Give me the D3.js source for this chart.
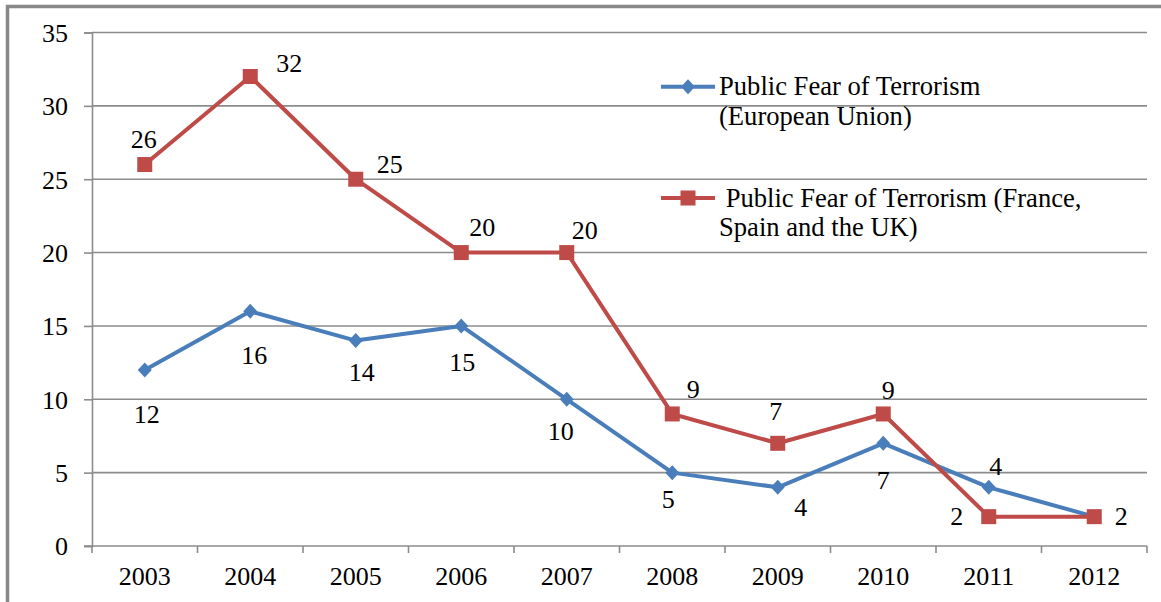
<!DOCTYPE html>
<html>
<head>
<meta charset="utf-8">
<script src="https://cdn.jsdelivr.net/npm/d3@7"></script>
<style>
  html, body { margin: 0; padding: 0; background: #fff; }
  svg { display: block; }
</style>
</head>
<body>
<svg id="chart" width="1161" height="602"></svg>
<script>
// ---- data ----
const years = ["2003","2004","2005","2006","2007","2008","2009","2010","2011","2012"];
const euValues = [12, 16, 14, 15, 10, 5, 4, 7, 4, 2];
const fsukValues = [26, 32, 25, 20, 20, 9, 7, 9, 2, 2];
const yTicks = [0, 5, 10, 15, 20, 25, 30, 35];
const euName = ["Public Fear of Terrorism", "(European Union)"];
const fsukName = ["\u00a0Public Fear of Terrorism (France,", "Spain and the UK)"];

// label offsets (dx, dy of baseline relative to point) — layout only
const euLabelOff = [[2,53],[4,53],[6,40],[1,45],[-6,41],[-4,35],[23,29],[0,46],[7,-12],null];
const fsukLabelOff = [[-1,-17],[39,-5],[34,-6],[21,-17],[18,-14],[21,-16],[-2,-23],[5,-15],[-32,8],[27,8]];

const FONT = "'Liberation Serif', 'Times New Roman', Times, 'DejaVu Serif', serif";
const blue = "#4a7ebb", red = "#be4b48", grid = "#8c8c8c";
const svg = d3.select("#chart");

// outer border
svg.append("rect").attr("x", 7.5).attr("y", 6.5).attr("width", 1200).attr("height", 700)
  .attr("fill", "none").attr("stroke", "#888").attr("stroke-width", 3.5);

const x = d3.scaleBand().domain(years).range([92, 1147]).padding(0);
const y = d3.scaleLinear().domain([0, 35]).range([546, 32.5]);
const cx = d => x(d) + x.bandwidth() / 2;

// gridlines
svg.append("g").selectAll("line").data(yTicks.filter(v => v > 0)).join("line")
  .attr("x1", 92).attr("x2", 1147).attr("y1", d => y(d)).attr("y2", d => y(d))
  .attr("stroke", grid).attr("stroke-width", 1.6);

// y axis
const yAxis = svg.append("g").attr("transform", "translate(92,0)")
  .call(d3.axisLeft(y).tickValues(yTicks).tickSize(8).tickPadding(16));
yAxis.attr("font-family", null).attr("font-size", null);
yAxis.select(".domain").attr("stroke", grid).attr("stroke-width", 1.6);
yAxis.selectAll(".tick line").attr("stroke", grid).attr("stroke-width", 1.6);
yAxis.selectAll(".tick text").style("font-family", FONT).style("font-size", "26px").attr("fill", "#000").attr("dy", "0.34em");

// x axis
const xAxis = svg.append("g").attr("transform", "translate(0,546)")
  .call(d3.axisBottom(x).tickSize(0).tickPadding(0));
xAxis.attr("font-family", null).attr("font-size", null);
xAxis.select(".domain").remove();
svg.append("line").attr("x1", 84).attr("x2", 1147).attr("y1", 546).attr("y2", 546)
  .attr("stroke", grid).attr("stroke-width", 1.6);
xAxis.selectAll(".tick text").style("font-family", FONT).style("font-size", "26px")
  .attr("fill", "#000").attr("y", 39).attr("dy", 0);
// boundary ticks
const bounds = years.map(d => x(d)).concat([x(years[years.length - 1]) + x.bandwidth()]);
svg.append("g").selectAll("line").data(bounds).join("line")
  .attr("x1", d => d).attr("x2", d => d).attr("y1", 546).attr("y2", 553)
  .attr("stroke", grid).attr("stroke-width", 1.6);

const line = d3.line().x((d, i) => cx(years[i])).y(d => y(d));

svg.append("path").datum(euValues).attr("d", line)
  .attr("fill", "none").attr("stroke", blue).attr("stroke-width", 4).attr("stroke-linejoin", "round");
svg.append("path").datum(fsukValues).attr("d", line)
  .attr("fill", "none").attr("stroke", red).attr("stroke-width", 4).attr("stroke-linejoin", "round");

function drawDiamond(g, px, py) {
  g.append("path").attr("d", "M0,-7.5L7,0L0,7.5L-7,0Z").attr("transform", `translate(${px},${py})`).attr("fill", blue);
}
function drawSquare(g, px, py) {
  g.append("rect").attr("x", px - 7.5).attr("y", py - 7.5).attr("width", 15).attr("height", 15).attr("fill", red);
}
const mk = svg.append("g");
euValues.forEach((v, i) => drawDiamond(mk, cx(years[i]), y(v)));
fsukValues.forEach((v, i) => drawSquare(mk, cx(years[i]), y(v)));

// data labels
const lab = svg.append("g");
function addText(g, px, py, t, anchor, size) {
  return g.append("text").attr("x", px).attr("y", py).attr("text-anchor", anchor || "start")
    .style("font-family", FONT).style("font-size", (size || 26) + "px").attr("fill", "#000").text(t);
}
euValues.forEach((v, i) => {
  const o = euLabelOff[i]; if (!o) return;
  addText(lab, cx(years[i]) + o[0], y(v) + o[1], v, "middle");
});
fsukValues.forEach((v, i) => {
  const o = fsukLabelOff[i];
  addText(lab, cx(years[i]) + o[0], y(v) + o[1], v, "middle");
});

// legend
const lg = svg.append("g");
lg.append("line").attr("x1", 661).attr("x2", 715).attr("y1", 86.7).attr("y2", 86.7).attr("stroke", blue).attr("stroke-width", 4);
drawDiamond(lg, 688, 86.7);
euName.forEach((t, i) => addText(lg, 719, 95 + i * 30, t, "start", 26.6));
lg.append("line").attr("x1", 661).attr("x2", 715).attr("y1", 198).attr("y2", 198).attr("stroke", red).attr("stroke-width", 4);
drawSquare(lg, 688, 198);
fsukName.forEach((t, i) => addText(lg, 719, 206.7 + i * 29.5, t, "start", 26.6));
</script>
</body>
</html>
